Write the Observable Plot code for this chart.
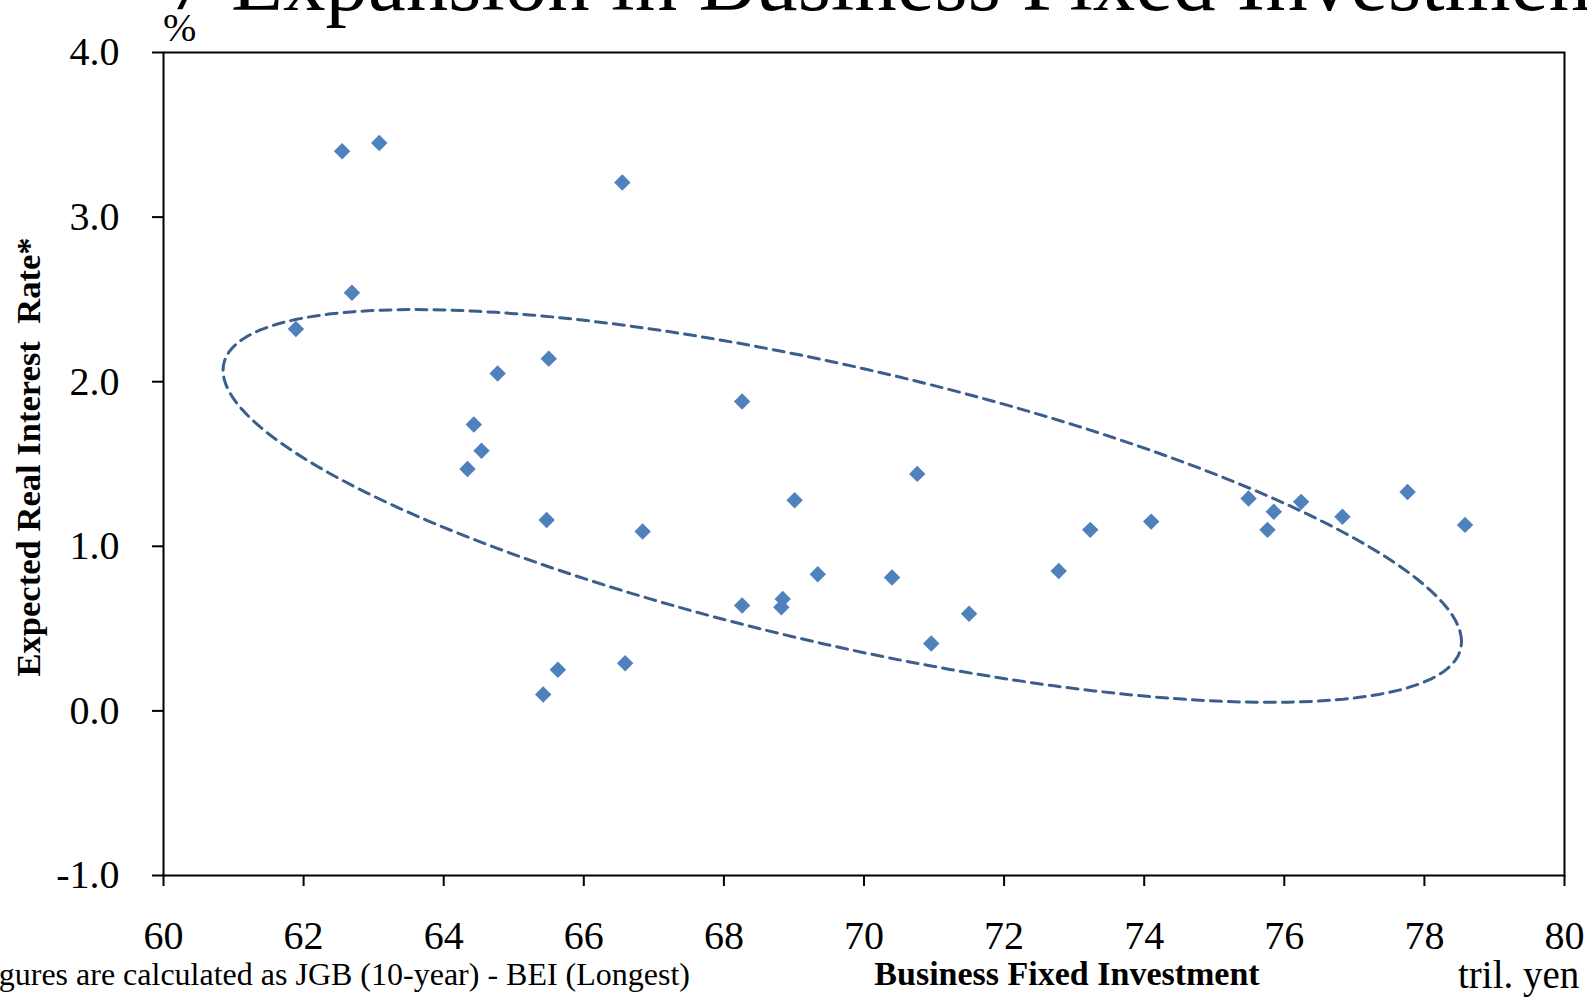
<!DOCTYPE html>
<html>
<head>
<meta charset="utf-8">
<script src="https://cdn.jsdelivr.net/npm/d3@7"></script>
<script src="https://cdn.jsdelivr.net/npm/@observablehq/plot@0.6"></script>
<style>
  html, body { margin: 0; padding: 0; background: white; }
  #chart { width: 1587px; height: 998px; overflow: hidden; }
</style>
</head>
<body>
<div id="chart"></div>
<script>
// Business fixed investment (tril. yen)
const investment = [62.55, 63.08, 66.55, 62.69, 61.89, 65.50, 64.77, 68.26, 64.43, 64.54, 64.34, 70.76, 69.01, 65.47, 66.84, 69.34, 70.40, 68.26, 68.84, 68.82, 71.50, 70.96, 72.78, 73.23, 74.10, 75.49, 75.85, 75.76, 76.24, 76.83, 77.76, 78.58, 66.59, 65.63, 65.42];
// Expected real interest rate (%)
const realRate = [3.40, 3.45, 3.21, 2.54, 2.32, 2.14, 2.05, 1.88, 1.74, 1.58, 1.47, 1.44, 1.28, 1.16, 1.09, 0.83, 0.81, 0.64, 0.68, 0.63, 0.59, 0.41, 0.85, 1.10, 1.15, 1.29, 1.21, 1.10, 1.27, 1.18, 1.33, 1.13, 0.29, 0.25, 0.10];

const xTicks = [60, 62, 64, 66, 68, 70, 72, 74, 76, 78, 80];
const yTicks = [-1, 0, 1, 2, 3, 4];

// Dashed oval annotation: centre and conjugate semi-axes in data units
const ovalCenter = [69.69, 1.245];
const ovalAxisU = [8.84, -0.824];
const ovalAxisV = [0, 0.863];

const titlePrefix = "7 ";
const title = "Expansion in Business Fixed Investment";
const yLabel = "Expected Real Interest  Rate*";
const xLabel = "Business Fixed Investment";
const unitX = "tril. yen";
const unitY = "%";
const note = "*Figures are calculated as JGB (10-year) - BEI (Longest)";

const points = investment.map((x, i) => ({x, y: realRate[i]}));
const oval = d3.range(0, 361, 2).map(deg => {
  const t = deg * Math.PI / 180;
  return {
    x: ovalCenter[0] + ovalAxisU[0] * Math.cos(t) + ovalAxisV[0] * Math.sin(t),
    y: ovalCenter[1] + ovalAxisU[1] * Math.cos(t) + ovalAxisV[1] * Math.sin(t)
  };
});

const ff = "'Liberation Serif', 'Times New Roman', serif";

const svg = Plot.plot({
  width: 1587,
  height: 998,
  marginLeft: 163,
  marginRight: 23,
  marginTop: 52,
  marginBottom: 123,
  style: {fontFamily: ff, fontSize: "40px", background: "white", color: "black"},
  x: {domain: [60, 80]},
  y: {domain: [-1, 4]},
  marks: [
    Plot.axisX({ticks: xTicks, tickSize: 11, tickPadding: 34, strokeWidth: 2, tickFormat: d => String(d), label: null, fontSize: 40}),
    Plot.axisY({ticks: yTicks, tickSize: 11, tickPadding: 33, strokeWidth: 2, tickFormat: d => d.toFixed(1), label: null, fontSize: 40}),
    Plot.frame({stroke: "black", strokeWidth: 2}),
    Plot.line(oval, {x: "x", y: "y", stroke: "#3A5F8D", strokeWidth: 3, strokeDasharray: "11,7", curve: "linear"}),
    Plot.dot(points, {x: "x", y: "y", symbol: "diamond2", r: 7.4, fill: "#4F81BD", stroke: "none"})
  ]
});

const s = d3.select(svg);
const titleText = s.append("text").attr("x", 231).attr("y", 10).attr("font-size", 85).attr("font-family", ff)
  .attr("fill", "black").attr("text-anchor", "start").style("white-space", "pre");
titleText.append("tspan").attr("class", "prefix").text(titlePrefix);
titleText.append("tspan").text(title);
s.append("text").attr("x", 163).attr("y", 41).attr("text-anchor", "start").attr("font-size", 40).attr("font-family", ff).attr("fill", "black").text(unitY);
s.append("text").attr("transform", "translate(39.5,457) rotate(-90)").attr("text-anchor", "middle").attr("font-size", 34.6).attr("font-weight", "bold").attr("font-family", ff).attr("fill", "black").style("white-space", "pre").text(yLabel);
s.append("text").attr("x", 1067).attr("y", 985).attr("text-anchor", "middle").attr("font-size", 34).attr("font-weight", "bold").attr("font-family", ff).attr("fill", "black").text(xLabel);
s.append("text").attr("x", 1458).attr("y", 988).attr("text-anchor", "start").attr("font-size", 39).attr("font-family", ff).attr("fill", "black").text(unitX);
s.append("text").attr("x", 690).attr("y", 985).attr("text-anchor", "end").attr("font-size", 32).attr("font-family", ff).attr("fill", "black").text(note);

document.getElementById("chart").appendChild(svg);

// align title so that the word "Expansion" begins at x = 231
const pw = titleText.select("tspan.prefix").node().getComputedTextLength();
titleText.attr("x", 231 - pw);
</script>
</body>
</html>
